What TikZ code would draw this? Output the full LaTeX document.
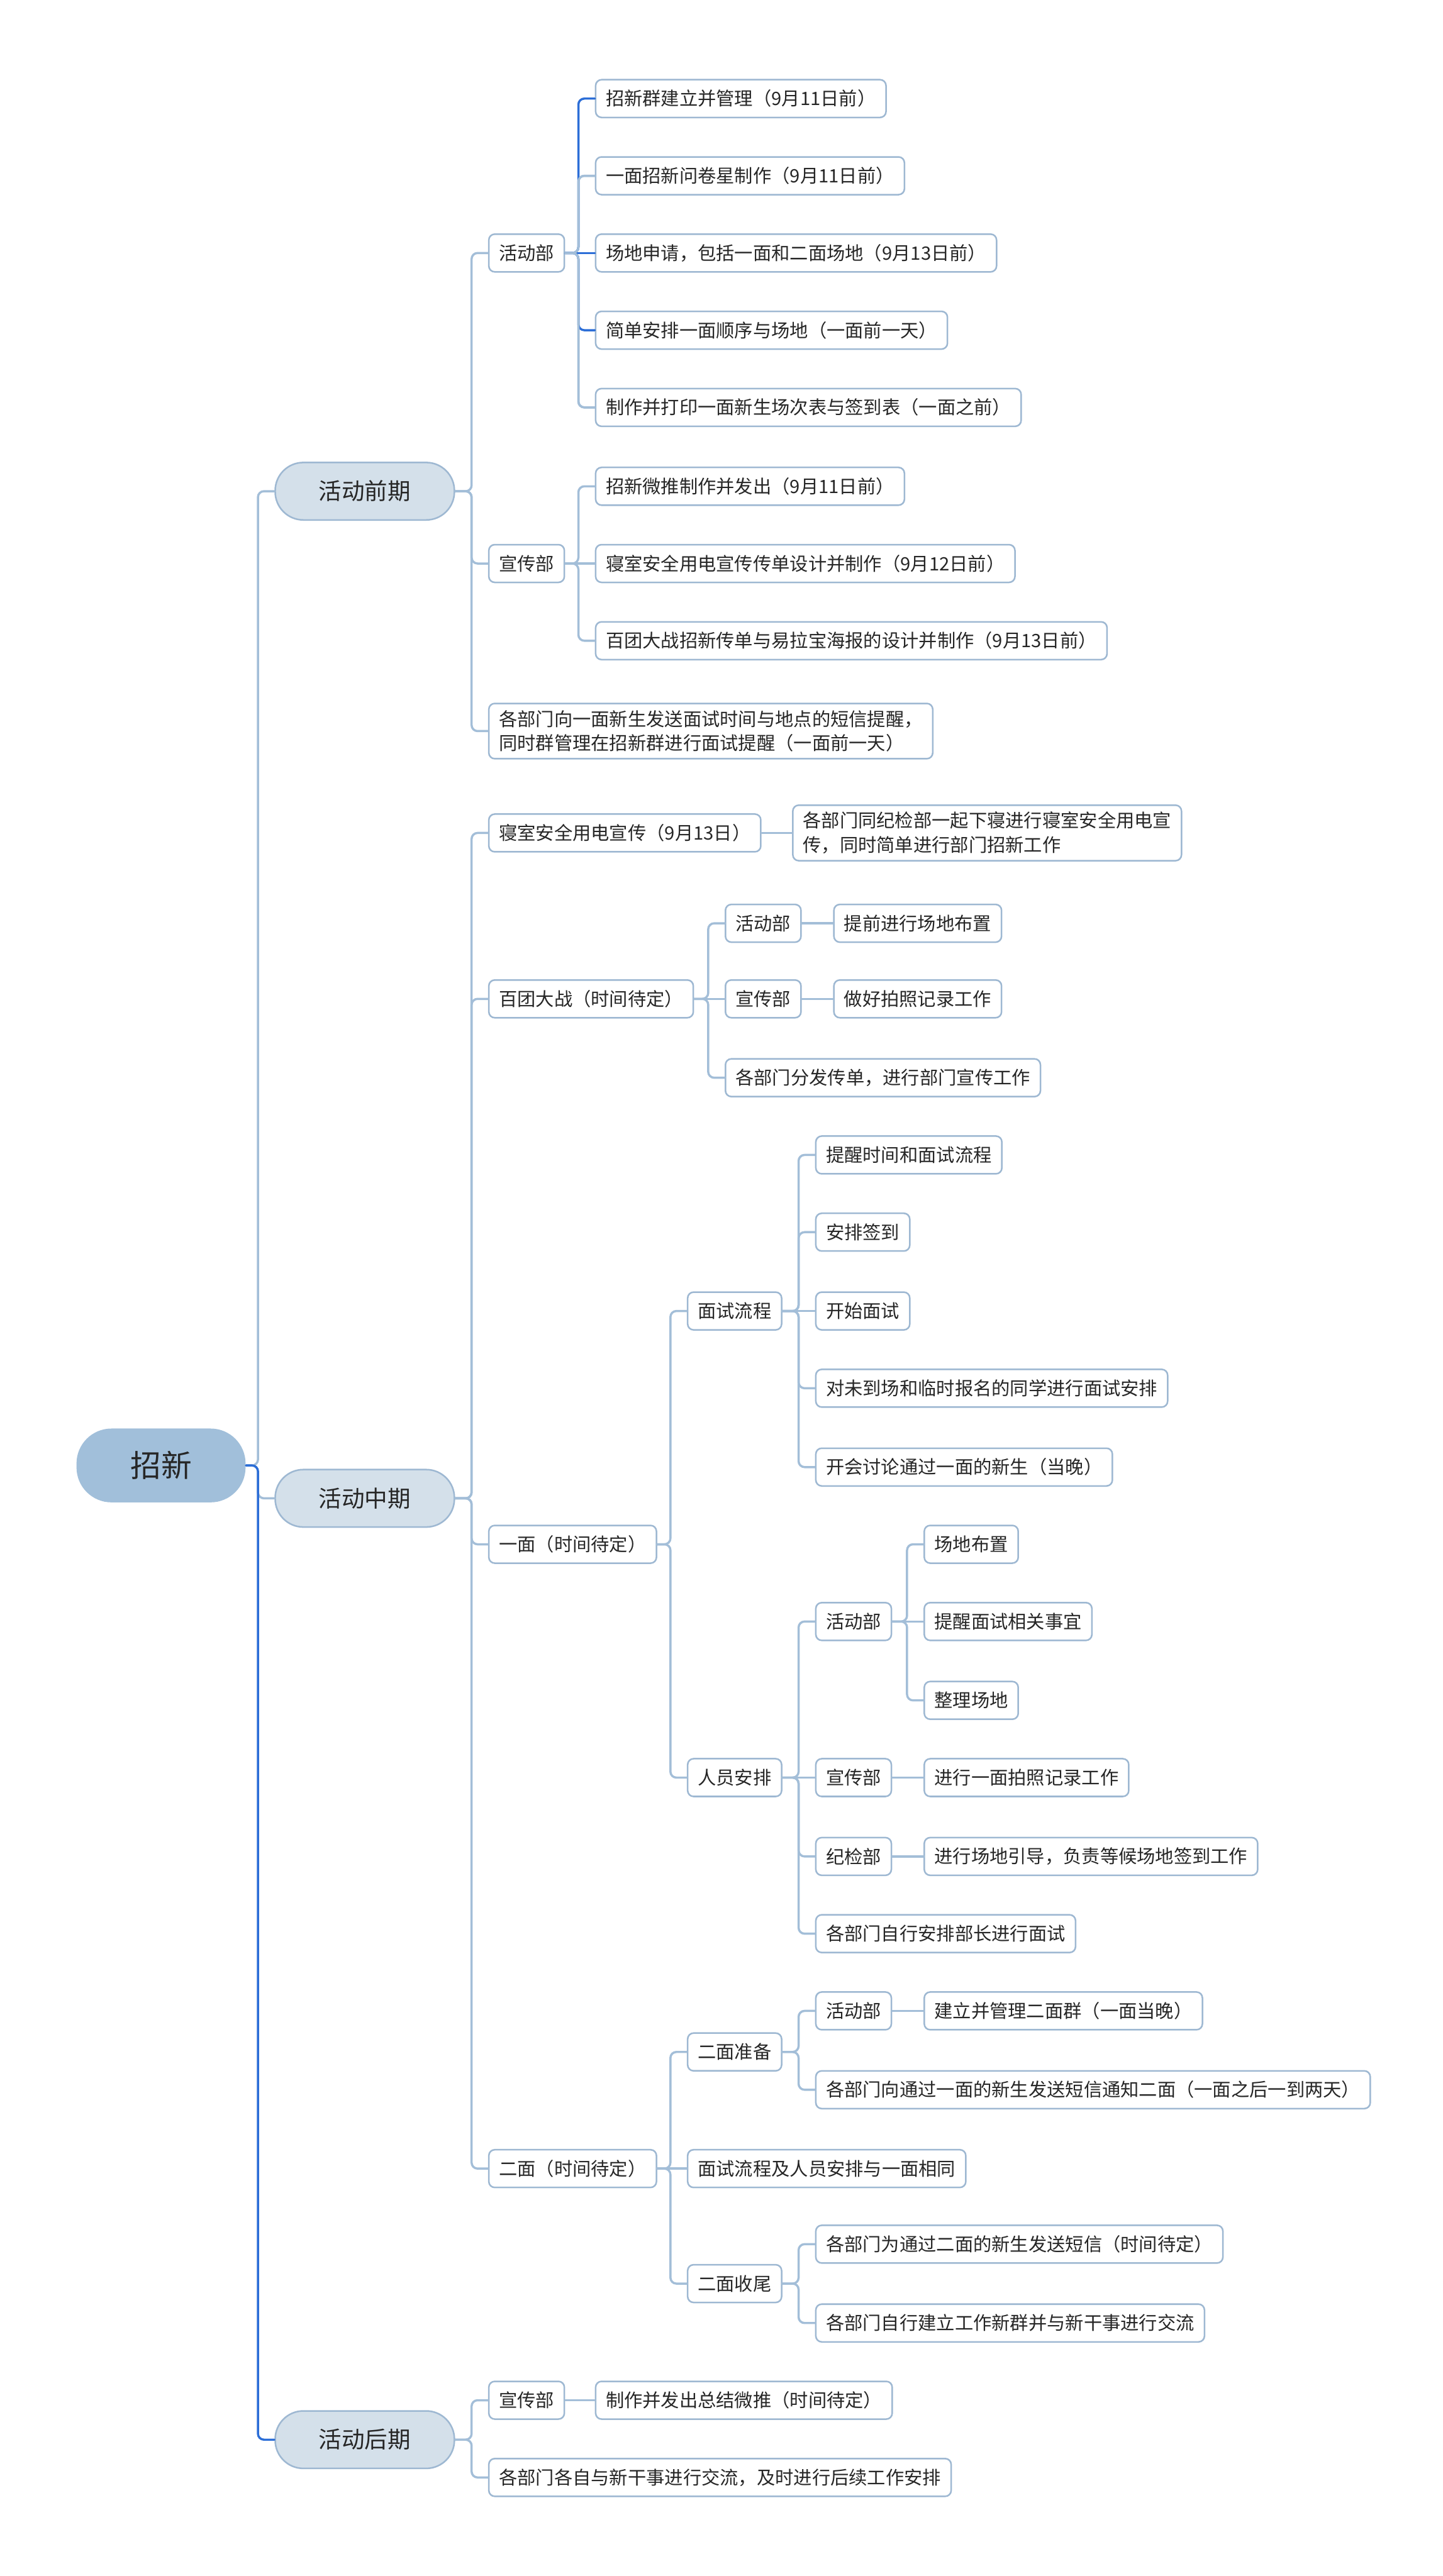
\documentclass[tikz,border=0pt]{standalone}
\usepackage{fontspec}
\setmainfont{Noto Sans CJK SC}
\usetikzlibrary{calc}
\definecolor{linkblue}{RGB}{163,190,216}
\definecolor{hiblue}{RGB}{44,110,215}
\definecolor{boxline}{RGB}{158,184,210}
\definecolor{phasefill}{RGB}{212,224,234}
\definecolor{rootfill}{RGB}{161,191,218}
\definecolor{ink}{RGB}{38,38,38}

\begin{document}
\begin{tikzpicture}[x=0.029157cm,y=-0.029157cm,line cap=round,
  leaf/.style={draw=boxline,fill=white,line width=0.8pt,rounded corners=3pt,anchor=west,inner xsep=0.18cm,inner ysep=0.12cm,minimum height=0.67cm,align=left,text=ink,font=\fontsize{9.3}{12.3}\selectfont},
  phase/.style={draw=boxline,fill=phasefill,line width=0.8pt,rounded corners=0.5cm,minimum width=3.18cm,minimum height=1.02cm,text=ink,font=\fontsize{11.6}{14}\selectfont},
  rootbox/.style={fill=rootfill,rounded corners=0.62cm,minimum width=3.0cm,minimum height=1.31cm,text=ink,font=\fontsize{15.5}{18}\selectfont},
  link/.style={draw=linkblue,line width=1.1pt,rounded corners=3pt},
  hilite/.style={link,draw=hiblue}]
  \useasboundingbox (0,0) rectangle (878,1568);
  % root and phases
  \node[rootbox] (zx) at (98,892) {招新};
  \node[phase] (qq) at (222,299) {活动前期};
  \node[phase] (zq) at (222,912) {活动中期};
  \node[phase] (hq) at (222,1485) {活动后期};
  % 活动前期
  \node[leaf] (qhd) at (297,154) {活动部};
  \node[leaf] (qhd1) at (362,60) {招新群建立并管理（9月11日前）};
  \node[leaf] (qhd2) at (362,107) {一面招新问卷星制作（9月11日前）};
  \node[leaf] (qhd3) at (362,154) {场地申请，包括一面和二面场地（9月13日前）};
  \node[leaf] (qhd4) at (362,201) {简单安排一面顺序与场地（一面前一天）};
  \node[leaf] (qhd5) at (362,248) {制作并打印一面新生场次表与签到表（一面之前）};
  \node[leaf] (qxc) at (297,343) {宣传部};
  \node[leaf] (qxc1) at (362,296) {招新微推制作并发出（9月11日前）};
  \node[leaf] (qxc2) at (362,343) {寝室安全用电宣传传单设计并制作（9月12日前）};
  \node[leaf] (qxc3) at (362,390) {百团大战招新传单与易拉宝海报的设计并制作（9月13日前）};
  \node[leaf] (qgb) at (297,445) {各部门向一面新生发送面试时间与地点的短信提醒，\\同时群管理在招新群进行面试提醒（一面前一天）};
  % 活动中期
  \node[leaf] (zqs) at (297,507) {寝室安全用电宣传（9月13日）};
  \node[leaf] (zqs1) at (482,507) {各部门同纪检部一起下寝进行寝室安全用电宣\\传，同时简单进行部门招新工作};
  \node[leaf] (zbt) at (297,608) {百团大战（时间待定）};
  \node[leaf] (zbth) at (441,562) {活动部};
  \node[leaf] (zbth1) at (507,562) {提前进行场地布置};
  \node[leaf] (zbtx) at (441,608) {宣传部};
  \node[leaf] (zbtx1) at (507,608) {做好拍照记录工作};
  \node[leaf] (zbtg) at (441,656) {各部门分发传单，进行部门宣传工作};
  \node[leaf] (zym) at (297,940) {一面（时间待定）};
  \node[leaf] (zlc) at (418,798) {面试流程};
  \node[leaf] (zlc1) at (496,703) {提醒时间和面试流程};
  \node[leaf] (zlc2) at (496,750) {安排签到};
  \node[leaf] (zlc3) at (496,798) {开始面试};
  \node[leaf] (zlc4) at (496,845) {对未到场和临时报名的同学进行面试安排};
  \node[leaf] (zlc5) at (496,893) {开会讨论通过一面的新生（当晚）};
  \node[leaf] (zry) at (418,1082) {人员安排};
  \node[leaf] (zryh) at (496,987) {活动部};
  \node[leaf] (zryh1) at (562,940) {场地布置};
  \node[leaf] (zryh2) at (562,987) {提醒面试相关事宜};
  \node[leaf] (zryh3) at (562,1035) {整理场地};
  \node[leaf] (zryx) at (496,1082) {宣传部};
  \node[leaf] (zryx1) at (562,1082) {进行一面拍照记录工作};
  \node[leaf] (zryj) at (496,1130) {纪检部};
  \node[leaf] (zryj1) at (562,1130) {进行场地引导，负责等候场地签到工作};
  \node[leaf] (zryg) at (496,1177) {各部门自行安排部长进行面试};
  \node[leaf] (zem) at (297,1320) {二面（时间待定）};
  \node[leaf] (zzb) at (418,1249) {二面准备};
  \node[leaf] (zzbh) at (496,1224) {活动部};
  \node[leaf] (zzbh1) at (562,1224) {建立并管理二面群（一面当晚）};
  \node[leaf] (zzbg) at (496,1272) {各部门向通过一面的新生发送短信通知二面（一面之后一到两天）};
  \node[leaf] (zxt) at (418,1320) {面试流程及人员安排与一面相同};
  \node[leaf] (zsw) at (418,1390) {二面收尾};
  \node[leaf] (zsw1) at (496,1366) {各部门为通过二面的新生发送短信（时间待定）};
  \node[leaf] (zsw2) at (496,1414) {各部门自行建立工作新群并与新干事进行交流};
  % 活动后期
  \node[leaf] (hxc) at (297,1461) {宣传部};
  \node[leaf] (hxc1) at (362,1461) {制作并发出总结微推（时间待定）};
  \node[leaf] (hgb) at (297,1508) {各部门各自与新干事进行交流，及时进行后续工作安排};
  % connectors, bent
  \foreach \src/\dst in {zx/qq,zx/zq,qq/qhd,qq/qxc,qq/qgb,qhd/qhd2,qhd/qhd5,qxc/qxc1,qxc/qxc3,
      zq/zqs,zq/zbt,zq/zym,zq/zem,zbt/zbth,zbt/zbtg,
      zym/zlc,zym/zry,zlc/zlc1,zlc/zlc2,zlc/zlc4,zlc/zlc5,zry/zryh,zry/zryj,zry/zryg,
      zryh/zryh1,zryh/zryh3,zem/zzb,zem/zsw,zzb/zzbh,zzb/zzbg,
      zsw/zsw1,zsw/zsw2,hq/hxc,hq/hgb}
    \draw[link] (\src.east) -| ($(\dst.west)+(-10,0)$) -- (\dst.west);
  % connectors, straight
  \foreach \src/\dst in {qxc/qxc2,zqs/zqs1,zbt/zbtx,zbth/zbth1,zbtx/zbtx1,zlc/zlc3,zry/zryx,
      zryh/zryh2,zryx/zryx1,zryj/zryj1,zem/zxt,zzbh/zzbh1,hxc/hxc1}
    \draw[link] (\src.east) -- (\dst.west);
  % selected branches
  \draw[hilite] (qhd.east) -- (qhd3.west);
  \foreach \src/\dst in {qhd/qhd1,qhd/qhd4,zx/hq}
    \draw[hilite] (\src.east) -| ($(\dst.west)+(-10,0)$) -- (\dst.west);
  \foreach \src/\dst in {qhd/qhd2,qhd/qhd5}
    \draw[link] (\src.east) -| ($(\dst.west)+(-10,0)$) -- (\dst.west);
\end{tikzpicture}
\end{document}
